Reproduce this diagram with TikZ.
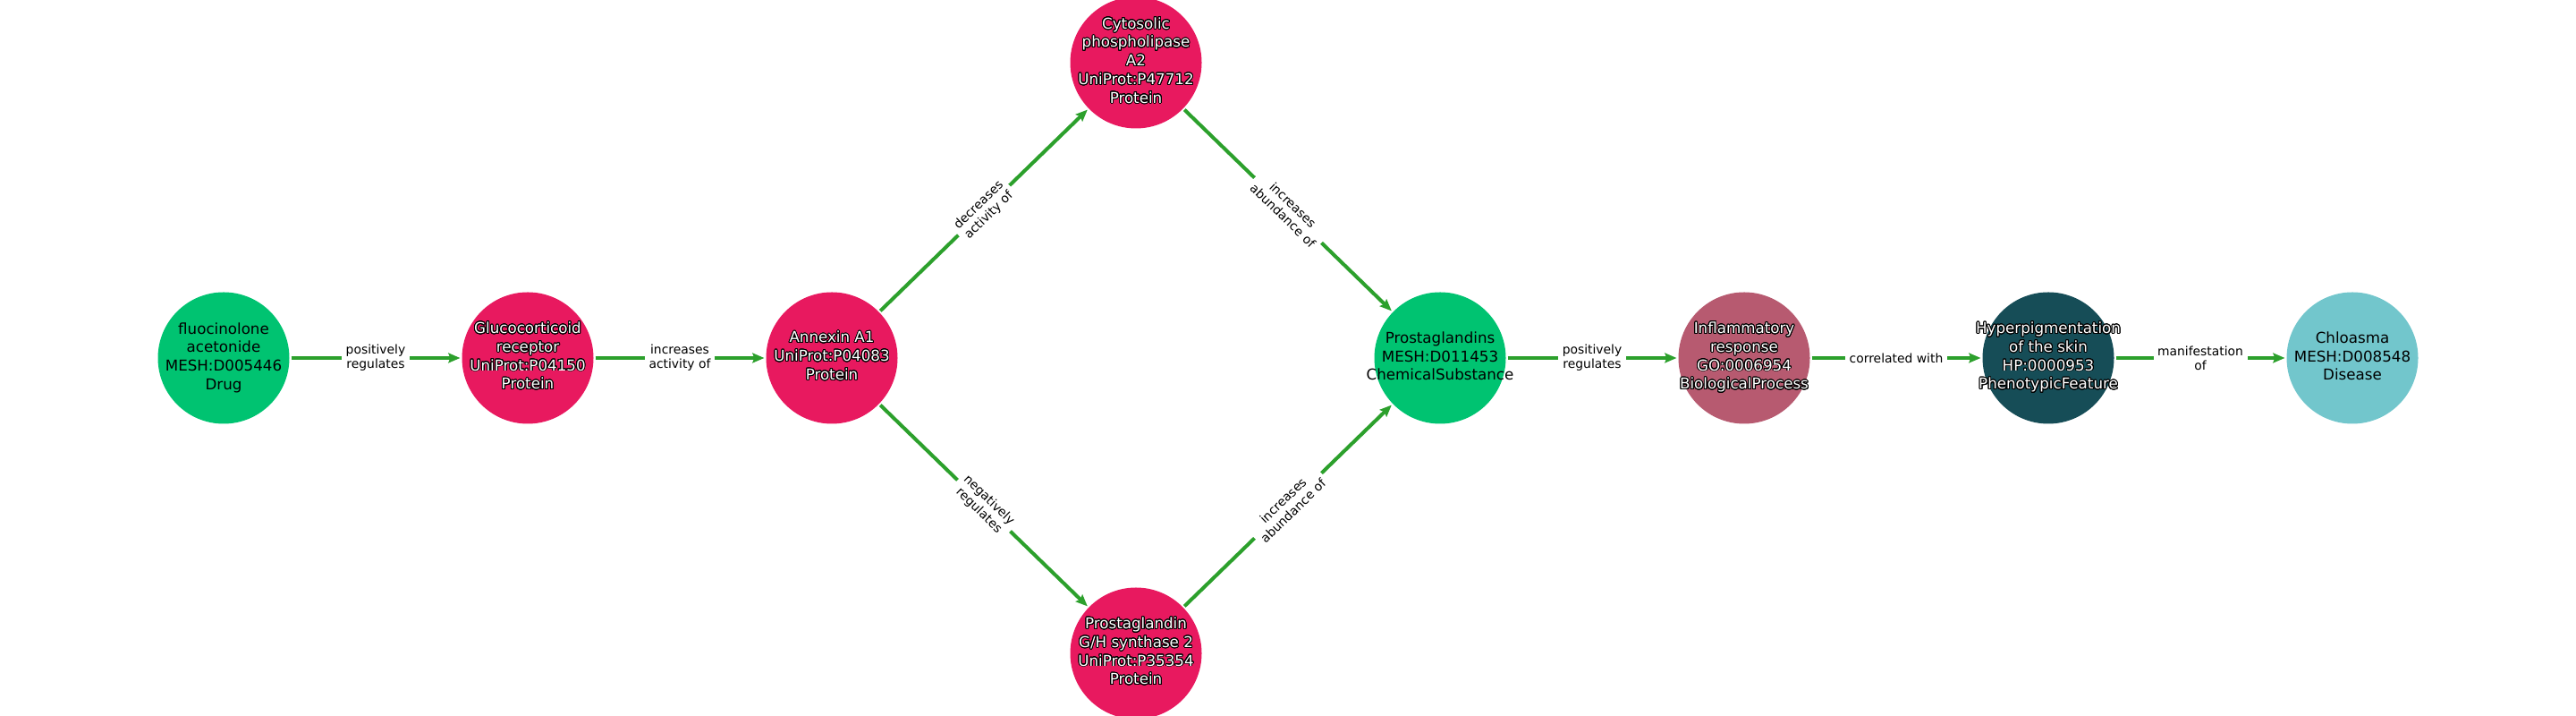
\documentclass[tikz,border=0pt]{standalone}
\usepackage{fontspec}
\setmainfont{DejaVu Sans}
\usepackage{tikz}
\usepackage{contour}
\usetikzlibrary{arrows.meta,positioning}
\contourlength{0.55pt}
\contournumber{24}

\definecolor{drugcol}{HTML}{00C371}
\definecolor{protcol}{HTML}{E8195F}
\definecolor{proccol}{HTML}{B75A70}
\definecolor{featcol}{HTML}{164D57}
\definecolor{discol}{HTML}{72C6CC}
\definecolor{edgecol}{HTML}{2CA02C}

\newcommand{\nodetext}[1]{\makebox[0pt]{\begin{tabular}{@{}c@{}}#1\end{tabular}}}
\newcommand{\outlined}[1]{\makebox[0pt]{\contour{black}{\begin{tabular}{@{}c@{}}#1\end{tabular}}}}

\tikzset{
  entity/.style={circle,minimum size=2.94cm,inner sep=0pt,
                 font=\fontsize{9.5}{11.8}\selectfont},
  drug/.style={entity,fill=drugcol,text=black},
  protein/.style={entity,fill=protcol,text=white},
  process/.style={entity,fill=proccol,text=white},
  feature/.style={entity,fill=featcol,text=white},
  disease/.style={entity,fill=discol,text=black},
  elabel/.style={fill=white,inner xsep=2.6pt,inner ysep=1.5pt,align=center,
                 text=black,font=\fontsize{7.9}{9.2}\selectfont}
}

\begin{document}
\begin{tikzpicture}[->,>={Stealth[length=7.5pt,width=6.2pt,inset=1.2pt]},
                    line width=2.3pt,draw=edgecol,
                    node distance=6.8cm,on grid]

  \useasboundingbox (0,0) rectangle (57.6,16);

  \node[drug]    (fluo) at (5,8)            {\nodetext{fluocinolone\\acetonide\\MESH:D005446\\Drug}};
  \node[protein] (gr)   [right=of fluo]     {\outlined{Glucocorticoid\\receptor\\UniProt:P04150\\Protein}};
  \node[protein] (anx)  [right=of gr]       {\outlined{Annexin A1\\UniProt:P04083\\Protein}};
  \node[protein] (cpla) [above right=6.6cm and 6.8cm of anx] {\outlined{Cytosolic\\phospholipase\\A2\\UniProt:P47712\\Protein}};
  \node[protein] (ptgs) [below right=6.6cm and 6.8cm of anx] {\outlined{Prostaglandin\\G/H synthase 2\\UniProt:P35354\\Protein}};
  \node[drug]    (pg)   [right=13.6cm of anx] {\nodetext{Prostaglandins\\MESH:D011453\\ChemicalSubstance}};
  \node[process] (infl) [right=of pg]       {\outlined{Inflammatory\\response\\GO:0006954\\BiologicalProcess}};
  \node[feature] (hyp)  [right=of infl]     {\outlined{Hyperpigmentation\\of the skin\\HP:0000953\\PhenotypicFeature}};
  \node[disease] (chl)  [right=of hyp]      {\nodetext{Chloasma\\MESH:D008548\\Disease}};

  \path[draw=edgecol,color=edgecol]
        (fluo) edge node[elabel] {positively\\regulates} (gr)
        (gr)   edge node[elabel] {increases\\activity of} (anx)
        (anx)  edge node[elabel,sloped] {decreases\\activity of} (cpla)
        (anx)  edge node[elabel,sloped] {negatively\\regulates} (ptgs)
        (cpla) edge node[elabel,sloped] {increases\\abundance of} (pg)
        (ptgs) edge node[elabel,sloped] {increases\\abundance of} (pg)
        (pg)   edge node[elabel] {positively\\regulates} (infl)
        (infl) edge node[elabel] {correlated with} (hyp)
        (hyp)  edge node[elabel] {manifestation\\of} (chl);

\end{tikzpicture}
\end{document}
